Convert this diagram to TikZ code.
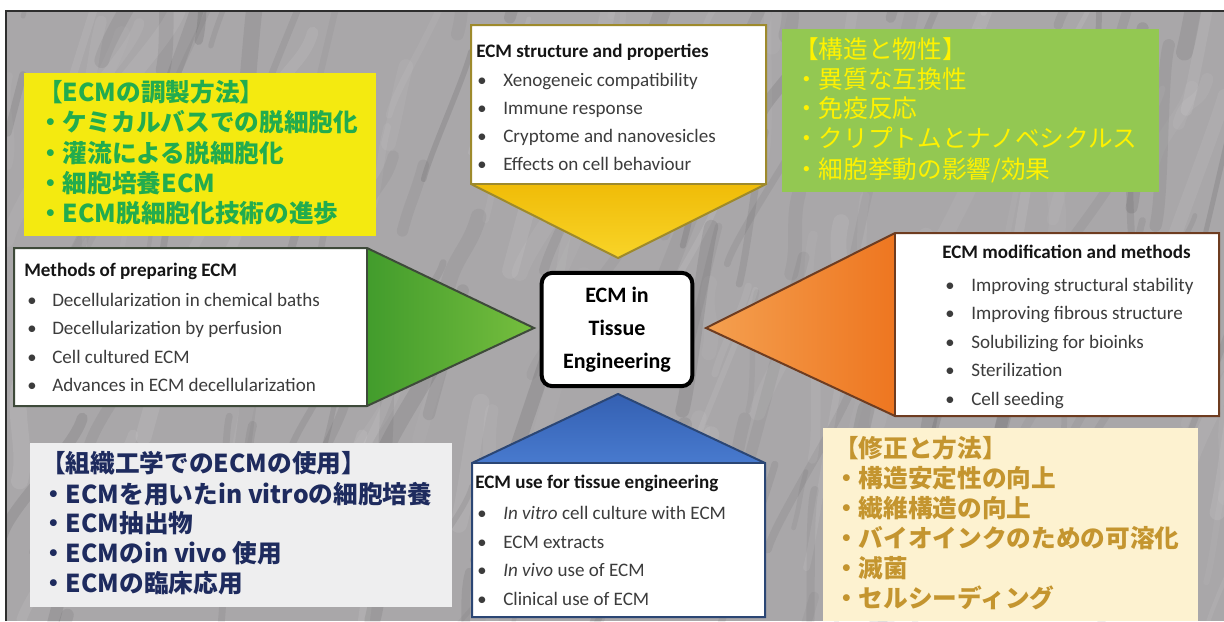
\documentclass[tikz,border=0pt]{standalone}
\usepackage{fontspec}
\setmainfont{Carlito}
\newfontfamily\jpfont{Noto Sans CJK JP}
\definecolor{bggray}{HTML}{A9A7A9}
\definecolor{framec}{HTML}{2E2E2E}
\definecolor{txtitem}{HTML}{3C3C3C}
\definecolor{txttitle}{HTML}{151515}
\definecolor{topbd}{HTML}{9E8A2C}
\definecolor{leftbd}{HTML}{3E4A3A}
\definecolor{rightbd}{HTML}{6E3C20}
\definecolor{botbd}{HTML}{2B4674}
\definecolor{jpAfill}{HTML}{F4EA10}
\definecolor{jpAtext}{HTML}{22AC4E}
\definecolor{jpBfill}{HTML}{93C852}
\definecolor{jpBtext}{HTML}{FFF200}
\definecolor{jpCfill}{HTML}{EEEEEF}
\definecolor{jpCtext}{HTML}{1E2B5E}
\definecolor{jpDfill}{HTML}{FDF2D0}
\definecolor{jpDtext}{HTML}{C4952F}
\begin{document}
\begin{tikzpicture}[x=0.75pt,y=-0.75pt,
  en/.style={anchor=base west, inner sep=0pt, text=txtitem, font=\fontsize{14.3}{16}\selectfont},
  ent/.style={anchor=base west, inner sep=0pt, text=txttitle, font=\fontsize{14.3}{16}\selectfont\bfseries},
  bul/.style={anchor=base west, inner sep=0pt, text=txtitem, font=\fontsize{14}{16}\selectfont},
  jp/.style={anchor=base west, inner sep=0pt, font=\fontsize{18.5}{20}\selectfont\jpfont\bfseries},
  jpr/.style={anchor=base west, inner sep=0pt, font=\fontsize{18.5}{20}\selectfont\jpfont},
  shapeline/.style={line width=1.5pt, line join=miter}
]
\useasboundingbox (0,0) rectangle (1224,621);
\fill[white] (0,0) rectangle (1224,621);
% background texture
\fill[bggray] (7,12) rectangle (1224,621);
\begin{scope}
\clip (7,12) rectangle (1224,621);
\pgfmathsetseed{11}
\foreach \k in {1,...,220}{
  \pgfmathsetmacro\xa{rnd*1260}
  \pgfmathsetmacro\ya{12+rnd*680}
  \pgfmathsetmacro\ln{50+rnd*170}
  \pgfmathsetmacro\an{55+rnd*35}
  \pgfmathsetmacro\dx{\ln*cos(\an)}
  \pgfmathsetmacro\dy{-\ln*sin(\an)}
  \pgfmathsetmacro\lw{3+rnd*10}
  \pgfmathsetmacro\op{0.03+rnd*0.06}
  \pgfmathparse{rnd>0.5 ? 1 : 0}
  \ifnum\pgfmathresult=1
    \draw[white, opacity=\op, line width=\lw pt, line cap=round] (\xa,\ya) .. controls +(8,-30) and +(-8,30) .. +(\dx,\dy);
  \else
    \draw[black, opacity=\op, line width=\lw pt, line cap=round] (\xa,\ya) .. controls +(8,-30) and +(-8,30) .. +(\dx,\dy);
  \fi
}
\end{scope}
\draw[framec, line width=1.6pt] (6,621) -- (6,11) -- (1224,11);

% ---------- top shape (yellow) ----------
\fill[white] (471,25) rectangle (766,184);
\shade[top color={rgb,255:red,240;green,188;blue,8}, bottom color={rgb,255:red,248;green,212;blue,40}] (471,184) -- (766,184) -- (618,258) -- cycle;
\draw[topbd, shapeline] (471,25) -- (766,25) -- (766,184) -- (618,258) -- (471,184) -- cycle;
\draw[topbd, line width=1.2pt] (471,184) -- (766,184);
\node[ent] (toph) at (476,57) {ECM structure and properties};
\foreach \t [count=\i] in {Xenogeneic compatibility, Immune response, Cryptome and nanovesicles, Effects on cell behaviour}{
  \node[bul] (topb\i) at (477,{86+28*(\i-1)}) {•};
  \node[en] (topi\i) at (503,{86+28*(\i-1)}) {\t};
}

% ---------- left shape (green) ----------
\fill[white] (14,248) rectangle (367,406);
\shade[left color={rgb,255:red,66;green,156;blue,44}, right color={rgb,255:red,118;green,190;blue,62}] (367,248) -- (534,328) -- (367,406) -- cycle;
\draw[leftbd, shapeline] (14,248) -- (367,248) -- (534,328) -- (367,406) -- (14,406) -- cycle;
\draw[leftbd, line width=1.2pt] (367,248) -- (367,406);
\node[ent] (lefth) at (24,276) {Methods of preparing ECM};
\foreach \t [count=\i] in {Decellularization in chemical baths, Decellularization by perfusion, Cell cultured ECM, Advances in ECM decellularization}{
  \node[bul] (leftb\i) at (27,{306+28.5*(\i-1)}) {•};
  \node[en] (lefti\i) at (52,{306+28.5*(\i-1)}) {\t};
}

% ---------- right shape (orange) ----------
\fill[white] (895,233) rectangle (1219,416);
\shade[left color={rgb,255:red,244;green,160;blue,80}, right color={rgb,255:red,238;green,118;blue,32}] (706,328) -- (895,233) -- (895,416) -- cycle;
\draw[rightbd, shapeline] (706,328) -- (895,233) -- (1219,233) -- (1219,416) -- (895,416) -- cycle;
\draw[rightbd, line width=1.2pt] (895,233) -- (895,416);
\node[ent] (righth) at (942,258) {ECM modification and methods};
\foreach \t [count=\i] in {Improving structural stability, Improving fibrous structure, Solubilizing for bioinks, Sterilization, Cell seeding}{
  \node[bul] (rightb\i) at (945,{291+28.6*(\i-1)}) {•};
  \node[en] (righti\i) at (971,{291+28.6*(\i-1)}) {\t};
}

% ---------- bottom shape (blue) ----------
\fill[white] (472,463) rectangle (765,617);
\shade[top color={rgb,255:red,52;green,96;blue,178}, bottom color={rgb,255:red,72;green,122;blue,206}] (618,394) -- (765,463) -- (472,463) -- cycle;
\draw[botbd, shapeline] (618,394) -- (765,463) -- (765,617) -- (472,617) -- (472,463) -- cycle;
\draw[botbd, line width=1.2pt] (472,463) -- (765,463);
\node[ent] (both) at (475,488) {ECM use for tissue engineering};
\node[bul] (botb1) at (477,519) {•};
\node[en] (boti1) at (503,519) {\textit{In vitro} cell culture with ECM};
\node[bul] (botb2) at (477,548) {•};
\node[en] (boti2) at (503,548) {ECM extracts};
\node[bul] (botb3) at (477,576) {•};
\node[en] (boti3) at (503,576) {\textit{In vivo} use of ECM};
\node[bul] (botb4) at (477,605) {•};
\node[en] (boti4) at (503,605) {Clinical use of ECM};

% ---------- center ----------
\node[draw=black, fill=white, line width=3pt, rounded corners=8pt, minimum width=113pt, minimum height=85pt, align=center, inner sep=0pt, font=\fontsize{16.5}{24.5}\selectfont\bfseries, text=black] (center) at (617,329.5) {ECM in\\Tissue\\Engineering};

% ---------- Japanese boxes ----------
\fill[jpAfill] (24,73) rectangle (376,236);
\node[jp, text=jpAtext] (ja1) at (38,101) {【ECMの調製方法】};
\node[jp, text=jpAtext] (ja2) at (38,131.5) {・ケミカルバスでの脱細胞化};
\node[jp, text=jpAtext] (ja3) at (38,162) {・灌流による脱細胞化};
\node[jp, text=jpAtext] (ja4) at (38,192) {・細胞培養ECM};
\node[jp, text=jpAtext] (ja5) at (38,222) {・ECM脱細胞化技術の進歩};

\fill[jpBfill] (782,29) rectangle (1159,192);
\node[jpr, text=jpBtext] (jb1) at (794,58) {【構造と物性】};
\node[jpr, text=jpBtext] (jb2) at (794,88) {・異質な互換性};
\node[jpr, text=jpBtext] (jb3) at (794,117) {・免疫反応};
\node[jpr, text=jpBtext] (jb4) at (794,147) {・クリプトムとナノベシクルス};
\node[jpr, text=jpBtext] (jb5) at (794,178) {・細胞挙動の影響/効果};

\fill[jpCfill] (30,443) rectangle (452,607);
\node[jp, text=jpCtext] (jc1) at (41,472) {【組織工学でのECMの使用】};
\node[jp, text=jpCtext] (jc2) at (41,503) {・ECMを用いたin vitroの細胞培養};
\node[jp, text=jpCtext] (jc3) at (41,532) {・ECM抽出物};
\node[jp, text=jpCtext] (jc4) at (41,562) {・ECMのin vivo 使用};
\node[jp, text=jpCtext] (jc5) at (41,592) {・ECMの臨床応用};

\fill[jpDfill] (823,428) rectangle (1198,621);
\node[jp, text=jpDtext] (jd1) at (834,457) {【修正と方法】};
\node[jp, text=jpDtext] (jd2) at (834,487) {・構造安定性の向上};
\node[jp, text=jpDtext] (jd3) at (834,517) {・繊維構造の向上};
\node[jp, text=jpDtext] (jd4) at (834,547) {・バイオインクのための可溶化};
\node[jp, text=jpDtext] (jd5) at (834,577) {・滅菌};
\node[jp, text=jpDtext] (jd6) at (834,607) {・セルシーディング};
\end{tikzpicture}
\end{document}
